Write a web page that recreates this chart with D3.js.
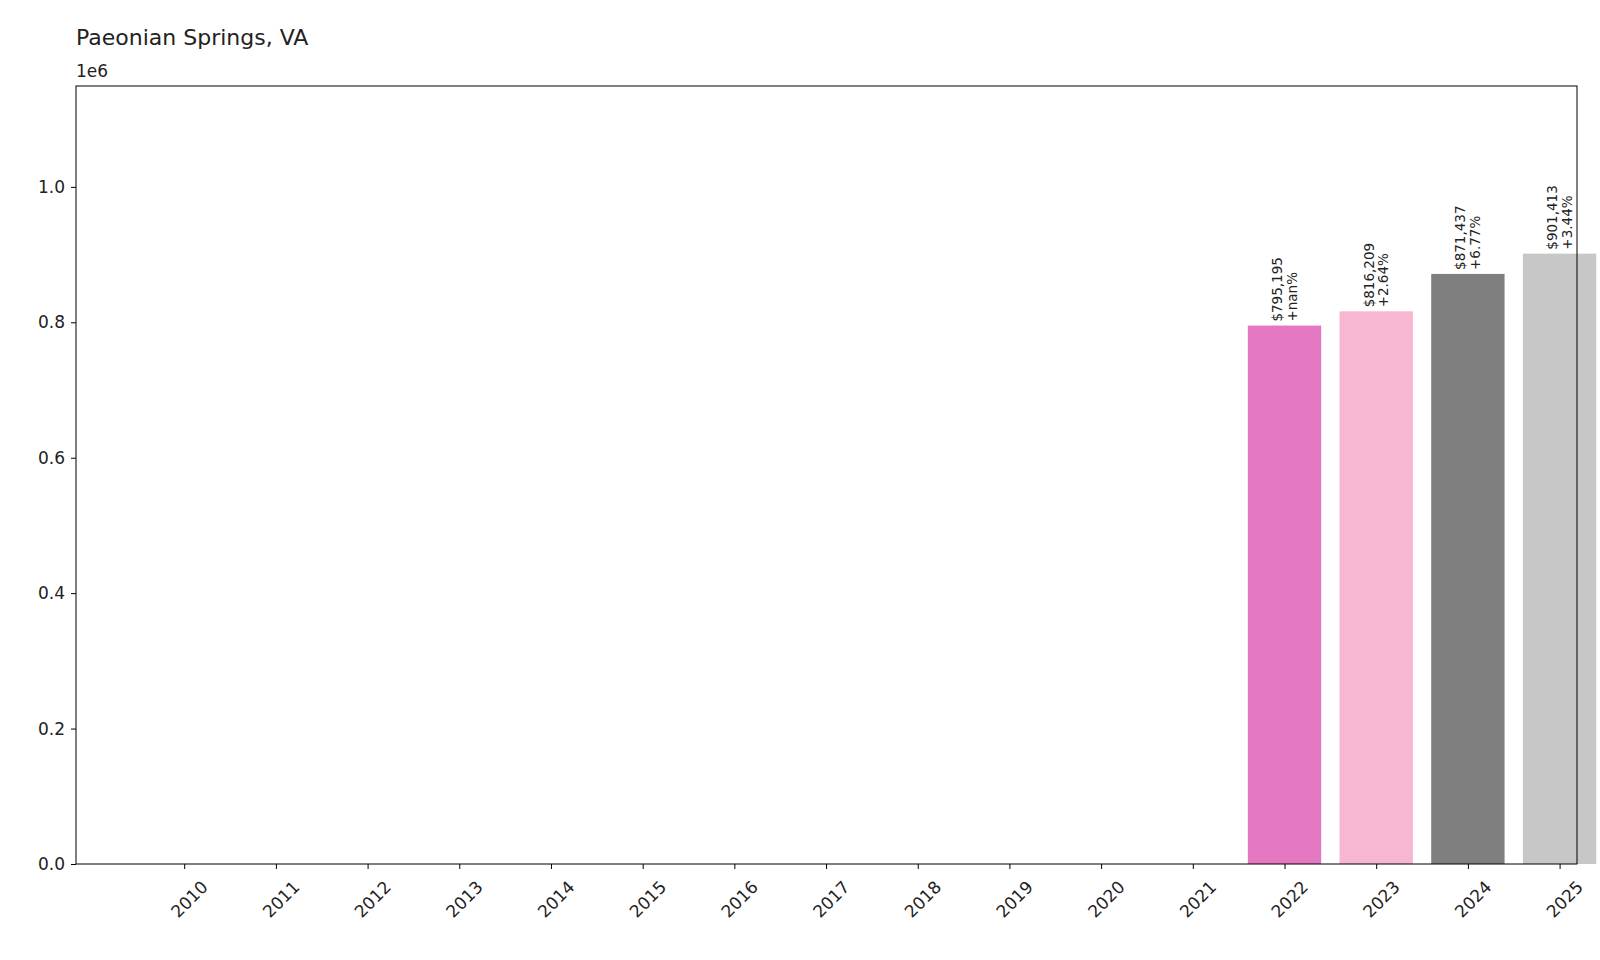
<!DOCTYPE html>
<html><head><meta charset="utf-8">
<script src="https://cdn.jsdelivr.net/npm/d3@7"></script>
<style>body{margin:0;background:#fff}text{font-family:"DejaVu Sans",sans-serif}</style>
</head><body><svg id="c" width="1600" height="960"></svg>
<script>
const years = [2010,2011,2012,2013,2014,2015,2016,2017,2018,2019,2020,2021,2022,2023,2024,2025];
const values = [0,0,0,0,0,0,0,0,0,0,0,0,795195,816209,871437,901413];
const changes = [null,null,null,null,null,null,null,null,null,null,null,null,"+nan%","+2.64%","+6.77%","+3.44%"];
const yTicks = [0,0.2e6,0.4e6,0.6e6,0.8e6,1.0e6];
const colors = ["#1f77b4","#aec7e8","#ff7f0e","#ffbb78","#2ca02c","#98df8a","#d62728","#ff9896","#9467bd","#c5b0d5","#8c564b","#c49c94","#e377c2","#f7b6d2","#7f7f7f","#c7c7c7"];

const svg = d3.select("#c");
const L=76,R=1577,T=86,B=864;
const x = d3.scaleLinear().domain([-1.18,15.19]).range([L,R]);
const y = d3.scaleLinear().domain([0,1.149e6]).range([B,T]);
const bw = x(0.4)-x(-0.4);

svg.selectAll("rect.bar").data(values).join("rect")
  .attr("x",(d,i)=>x(i)-bw/2).attr("width",bw)
  .attr("y",d=>y(d)).attr("height",d=>B-y(d))
  .attr("fill",(d,i)=>colors[i]);

values.forEach((v,i)=>{
  if(!changes[i]) return;
  const g = svg.append("g").attr("transform",`translate(${x(i)},${y(v)-4}) rotate(-90)`);
  const t = g.append("text").attr("font-size",13.5).attr("fill","#222").attr("textLength",null);
  t.append("tspan").attr("x",0).attr("dy","-0.2em").text("$"+d3.format(",")(v));
  t.append("tspan").attr("x",0).attr("dy","1.1em").text(changes[i]);
});

svg.append("rect").attr("x",L).attr("y",T).attr("width",R-L).attr("height",B-T)
  .attr("fill","none").attr("stroke","#000").attr("stroke-width",1);

const ya = svg.append("g").attr("transform",`translate(${L},0)`)
  .call(d3.axisLeft(y).tickValues(yTicks).tickFormat(d=>(d/1e6).toFixed(1)).tickSize(5).tickPadding(6));
ya.select(".domain").remove();
ya.selectAll("text").attr("font-size",17).attr("fill","#222");

const xa = svg.append("g").attr("transform",`translate(0,${B})`)
  .call(d3.axisBottom(x).tickValues(d3.range(years.length)).tickFormat(i=>years[i]).tickSize(5));
xa.select(".domain").remove();
xa.selectAll("text").attr("font-size",17).attr("fill","#222")
  .attr("text-anchor","end").attr("transform","translate(10,10) rotate(-45)");

svg.append("text").attr("x",L).attr("y",77).attr("font-size",17).attr("fill","#222").text("1e6");
svg.append("text").attr("x",L).attr("y",45).attr("font-size",22).attr("fill","#222").text("Paeonian Springs, VA");
</script></body></html>
